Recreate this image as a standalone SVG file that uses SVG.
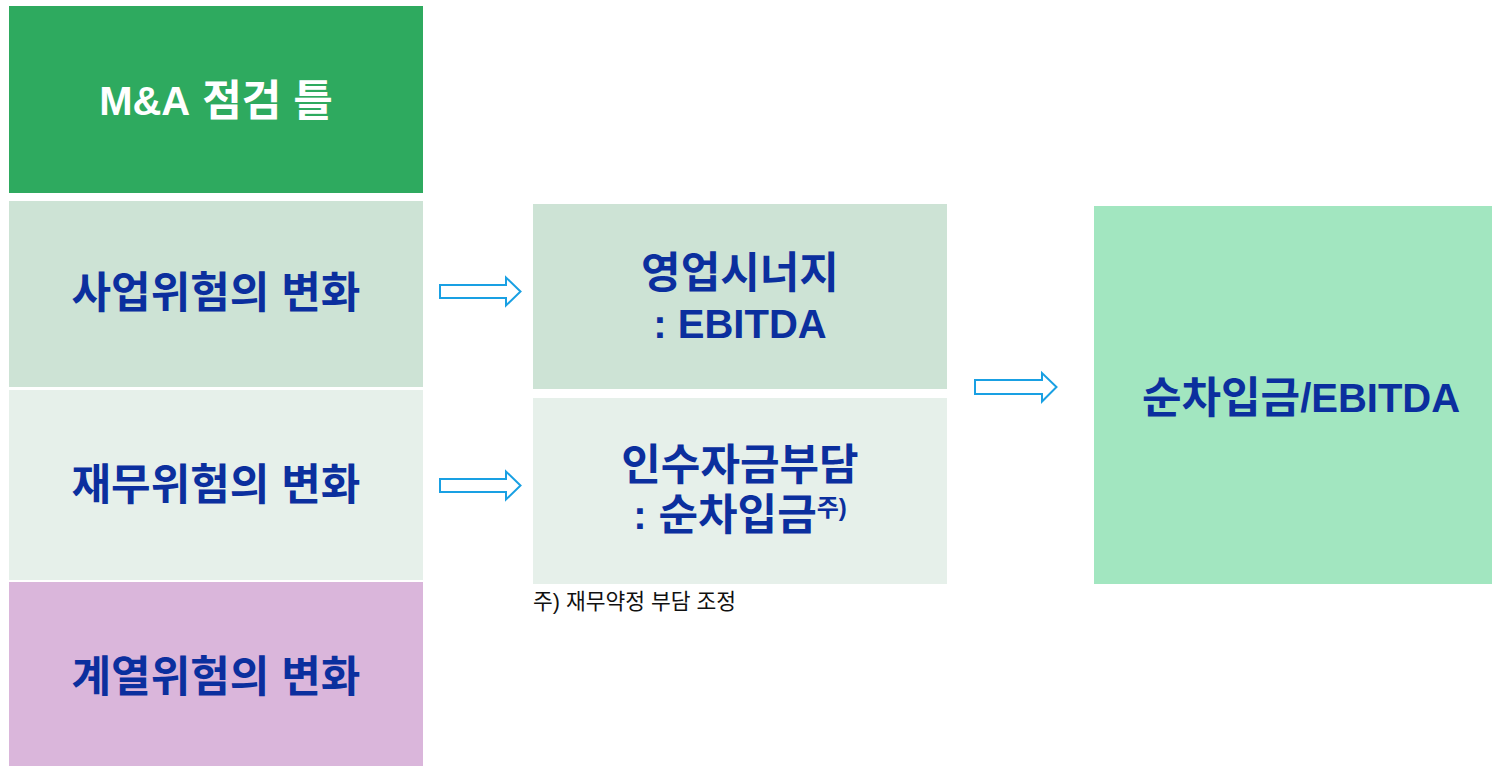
<svg xmlns="http://www.w3.org/2000/svg" width="1492" height="766" viewBox="0 0 1492 766">
<style>
.t{font-family:"Liberation Sans","Noto Sans CJK KR",sans-serif;font-weight:bold;fill:#0b2f9e;text-anchor:middle;dominant-baseline:central;font-size:43px}
.w{fill:#ffffff}
.lat{font-size:40px}
.arr{fill:#ffffff;stroke:#19a0e3;stroke-width:2}
.note{font-family:"Liberation Sans","Noto Sans CJK KR",sans-serif;font-size:21.5px;fill:#111}
</style>
<rect width="1492" height="766" fill="#ffffff"/>
<g id="n-ma">
<rect x="9" y="6" width="414" height="187" fill="#2eaa5f"/>
<text class="t w" x="216" y="101"><tspan class="lat">M&amp;A</tspan> 점검 틀</text>
</g>
<g id="n-biz">
<rect x="9" y="201" width="414" height="186" fill="#cde3d5"/>
<text class="t" x="216" y="293">사업위험의 변화</text>
</g>
<g id="n-fin">
<rect x="9" y="390" width="414" height="190" fill="#e6f0ea"/>
<text class="t" x="216" y="485">재무위험의 변화</text>
</g>
<g id="n-aff">
<rect x="9" y="582" width="414" height="184" fill="#dab6db"/>
<text class="t" x="216" y="677">계열위험의 변화</text>
</g>
<g id="n-syn">
<rect x="533" y="204" width="414" height="185" fill="#cde3d5"/>
<text class="t" x="740" y="273">영업시너지</text>
<text class="t lat" x="740" y="324">: EBITDA</text>
</g>
<g id="n-acq">
<rect x="533" y="398" width="414" height="186" fill="#e6f0ea"/>
<text class="t" x="740" y="465">인수자금부담</text>
<text class="t" x="740" y="515"><tspan class="lat">:</tspan> 순차입금<tspan font-size="24" dy="-8">주)</tspan></text>
</g>
<g id="n-ratio">
<rect x="1094" y="206" width="398" height="378" fill="#a2e6c0"/>
<text class="t" x="1301" y="398">순차입금<tspan class="lat">/EBITDA</tspan></text>
</g>
<g id="note">
<text class="note" x="533" y="609">주) 재무약정 부담 조정</text>
</g>
<g id="connectors">
<path class="arr" d="M440,285 H506 V277.5 L520.5,291.5 L506,305.5 V298 H440 Z"/>
<path class="arr" d="M440,479 H506 V471.5 L520.5,485.5 L506,499.5 V492 H440 Z"/>
<path class="arr" d="M975,380 H1042 V373 L1056.5,387 L1042,401.5 V394 H975 Z"/>
</g>
</svg>
